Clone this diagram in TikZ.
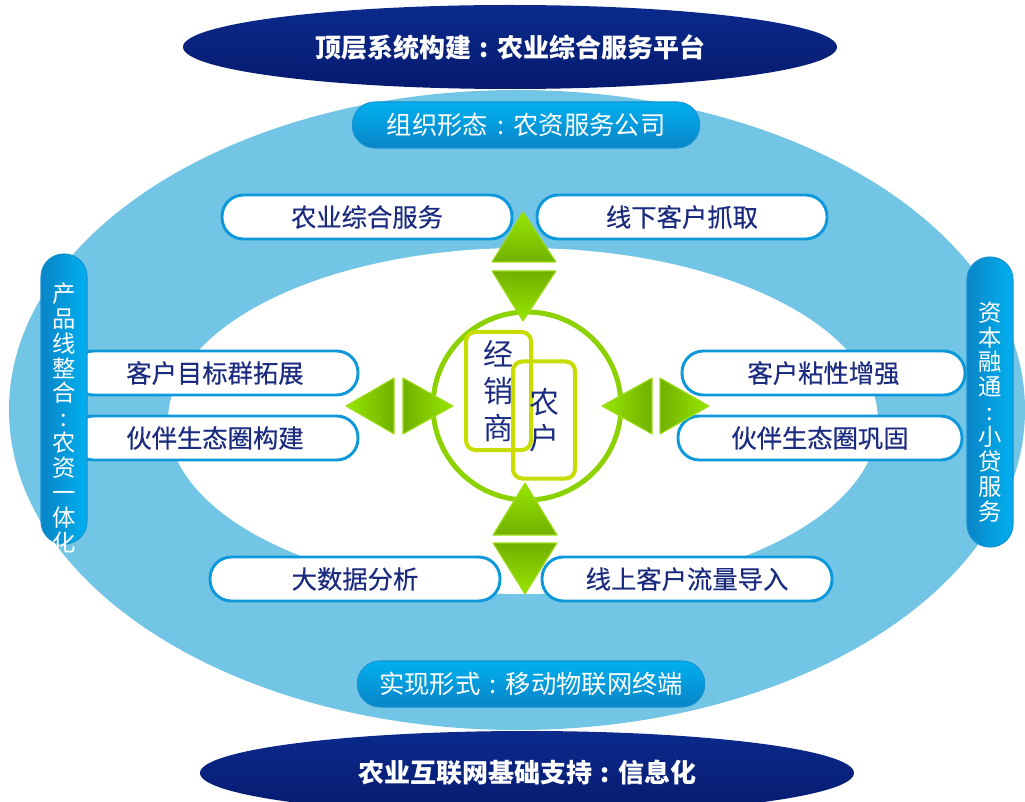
\documentclass[tikz,border=0pt]{standalone}
\usepackage{fontspec}
\setmainfont{Noto Sans CJK SC}
\newfontfamily\boxfont[FakeBold=0.35]{Noto Sans CJK SC}
\newcommand\cln{\makebox[1em][c]{:}}
\definecolor{skyblue}{HTML}{72C5E5}
\definecolor{navytxt}{HTML}{1B2C80}
\definecolor{boxblue}{HTML}{0C98DA}
\definecolor{darktop}{HTML}{0B2A8C}
\definecolor{darkbot}{HTML}{061A6E}
\definecolor{pilltop}{HTML}{00B0F0}
\definecolor{pillbot}{HTML}{0A84C6}
\definecolor{pillrim}{HTML}{1592D2}
\definecolor{ringgreen}{HTML}{8CD200}
\definecolor{boxyellow}{HTML}{C8DC00}
\definecolor{trilight}{HTML}{98E600}
\definecolor{tridark}{HTML}{70B000}
\definecolor{tririm}{HTML}{9EDC14}
\usetikzlibrary{shapes.geometric}
\begin{document}
\begin{tikzpicture}[x=0.75pt,y=-0.75pt,
  darkell/.style={ellipse, inner sep=0pt, top color=darktop, bottom color=darkbot,
    minimum width=490.5pt, minimum height=63pt, text=white,
    font=\fontsize{19.5}{22}\selectfont\bfseries},
  pillbox/.style={draw=pillrim, line width=0.8pt, top color=pilltop, bottom color=pillbot,
    rounded corners=17pt, minimum width=260.5pt, minimum height=34.5pt, inner sep=0pt,
    text=white, font=\fontsize{19}{22}\selectfont},
  sidepill/.style={draw=pillrim, line width=0.8pt, left color=pillbot, right color=pilltop,
    rounded corners=17pt, minimum width=34.5pt, minimum height=217.5pt, inner sep=0pt},
  sidetext/.style={text=white, align=center, inner sep=0pt,
    font=\fontsize{17.5}{18.7}\selectfont},
  wbox/.style={draw=boxblue, line width=2.2pt, fill=white, rounded corners=16pt,
    minimum width=217.5pt, minimum height=33pt, inner sep=0pt, text=navytxt,
    font=\boxfont\fontsize{19}{22}\selectfont},
  ybox/.style={draw=boxyellow, line width=3pt, rounded corners=7pt, inner sep=0pt,
    text=navytxt, align=center},
  tri/.style={draw=tririm, line width=0.8pt, line join=round}
]
\useasboundingbox (0,0) rectangle (1025,802);

% background ellipses
\path[fill=skyblue] (517,410) ellipse [x radius=381pt, y radius=240pt];
\path[fill=white] (523,421) ellipse [x radius=266.25pt, y radius=129.75pt];

% top and bottom dark ellipses
\node[darkell] (toptitle) at (510,47) {顶层系统构建\cln 农业综合服务平台};
\node[darkell] (bottitle) at (527,773) {农业互联网基础支持\cln 信息化};

% blue pills
\node[pillbox] (org) at (526,125) {组织形态\cln 农资服务公司};
\node[pillbox] (form) at (531,684) {实现形式\cln 移动物联网终端};

% white boxes
\node[wbox] (b1) at (367,217) {农业综合服务};
\node[wbox] (b2) at (682,217) {线下客户抓取};
\node[wbox, minimum width=214.5pt] (b3) at (215,373) {客户目标群拓展};
\node[wbox, minimum width=214.5pt] (b4) at (215,438) {伙伴生态圈构建};
\node[wbox, minimum width=212.25pt] (b5) at (823.5,373) {客户粘性增强};
\node[wbox, minimum width=213pt] (b6) at (820,438) {伙伴生态圈巩固};
\node[wbox] (b7) at (355,579) {大数据分析};
\node[wbox] (b8) at (687,579) {线上客户流量导入};

% side pills
\node[sidepill] (lp) at (64,399) {};
\node[sidetext] (lpt) at (64,418) {产\\品\\线\\整\\合\\\cln\\农\\资\\一\\体\\化};
\node[sidepill] (rp) at (990,402) {};
\node[sidetext] (rpt) at (990,412) {资\\本\\融\\通\\\cln\\小\\贷\\服\\务};

% central ring and boxes
\node[draw=ringgreen, line width=3.75pt, circle, minimum size=141pt, inner sep=0pt] (ring) at (527,406) {};
\node[ybox, minimum width=48.75pt, minimum height=88.5pt,
  font=\fontsize{22.5}{27.75}\selectfont] (dealer) at (498.5,391) {经\\销\\商};
\node[ybox, minimum width=46.5pt, minimum height=87.75pt,
  font=\fontsize{22.5}{30}\selectfont] (farmer) at (544,420) {\raisebox{-4pt}{\shortstack{农\\[3pt]户}}};

% green triangles
\path[tri, top color=trilight, bottom color=tridark] (492,262) -- (523,212) -- (556,262) -- cycle;
\path[tri, top color=tridark, bottom color=trilight] (492,271) -- (556,271) -- (523,321) -- cycle;
\path[tri, top color=trilight, bottom color=tridark] (493,535) -- (525,483) -- (557,535) -- cycle;
\path[tri, top color=tridark, bottom color=trilight] (493,543) -- (557,543) -- (525,594) -- cycle;
\path[tri, left color=trilight, right color=tridark] (346,406) -- (394,378) -- (394,434) -- cycle;
\path[tri, left color=tridark, right color=trilight] (403,378) -- (453,406) -- (403,434) -- cycle;
\path[tri, left color=trilight, right color=tridark] (602,406) -- (652,378) -- (652,434) -- cycle;
\path[tri, left color=tridark, right color=trilight] (660,378) -- (709,406) -- (660,434) -- cycle;
\end{tikzpicture}
\end{document}
